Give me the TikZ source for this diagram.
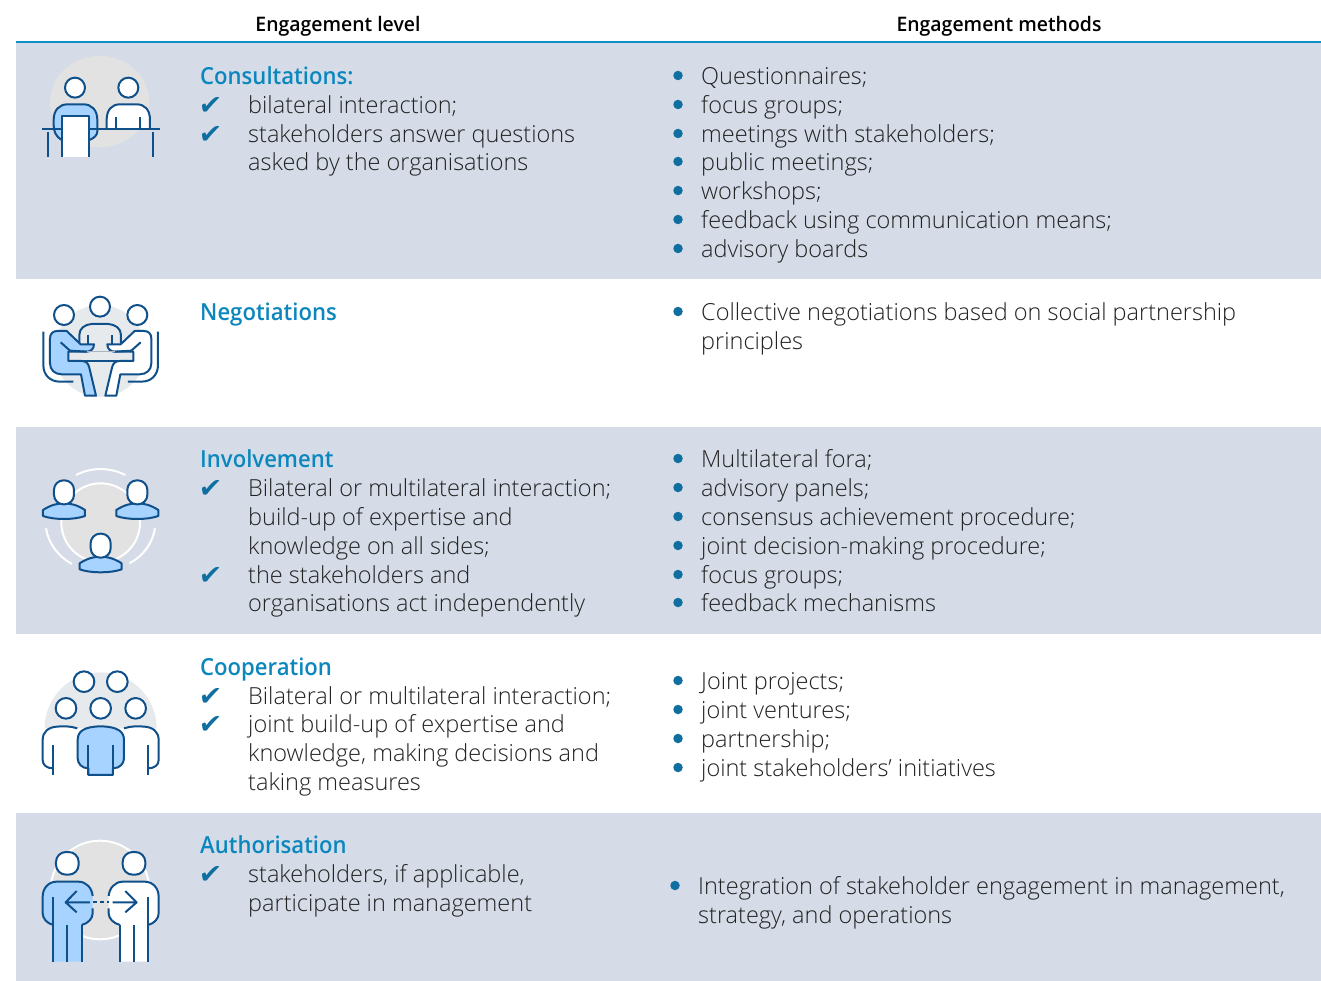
\documentclass[tikz,border=0pt]{standalone}
\usepackage{fontspec}
\setmainfont{Open Sans}[UprightFont={* Light},BoldFont={* Semibold}]
\newfontfamily\hdfont{Open Sans}[UprightFont={* Semibold},FakeStretch=0.94]
\newfontfamily\medfont{Open Sans}[UprightFont={* Semibold},FakeStretch=0.97]
\newfontfamily\symfont{DejaVu Sans}[FakeSlant=0.1]
\definecolor{band}{HTML}{D5DCE8}
\definecolor{rulec}{HTML}{0F8FC6}
\definecolor{headc}{HTML}{0B87BE}
\definecolor{ink}{HTML}{222222}
\definecolor{dot}{HTML}{0F6FA0}
\definecolor{iconl}{HTML}{0F4F8A}
\definecolor{iconb}{HTML}{A6D3FF}
\definecolor{disc}{HTML}{E2E2E2}
\definecolor{discw}{HTML}{E7EAEC}
\definecolor{tabletop}{HTML}{A9B4BE}
\tikzset{
 txt/.style={anchor=base west,inner sep=0pt,text=ink,font=\fontsize{23.5}{28}\selectfont},
 hd/.style={anchor=base west,inner sep=0pt,text=headc,font=\hdfont\fontsize{23.5}{28}\selectfont},
 colhd/.style={anchor=base,inner sep=0pt,text=black,font=\medfont\fontsize{20}{24}\selectfont},
 chk/.style={anchor=base west,inner sep=0pt,text=dot,font=\symfont\fontsize{27}{28}\selectfont},
 bul/.style={circle,fill=dot,minimum size=9.5pt,inner sep=0pt},
 ic/.style={draw=iconl,line width=2pt,line join=round},
 icw/.style={draw=white,line width=2pt},
 zoomed/.style={shift={#1},x=0.3333pt,y=-0.3333pt},
}
\begin{document}
\begin{tikzpicture}[x=1pt,y=-1pt]
\useasboundingbox (0,0) rectangle (1321,981);
\fill[white] (0,0) rectangle (1321,981);
\fill[band] (16,43) rectangle (1321,279);
\fill[band] (16,427) rectangle (1321,634);
\fill[band] (16,813) rectangle (1321,981);
\draw[rulec,line width=2pt] (16,42.5) -- (1321,42.5);
\node[colhd] (h1) at (338,32) {Engagement level};
\node[colhd] (h2) at (999,32) {Engagement methods};
% row 1 left
\node[hd] (a0) at (200,85) {Consultations:};
\node[chk] (ac1) at (198,115) {✔};
\node[txt] (a1) at (248,114) {bilateral interaction;};
\node[chk] (ac2) at (198,144) {✔};
\node[txt] (a2) at (248,143) {stakeholders answer questions};
\node[txt] (a3) at (248,171) {asked by the organisations};
% row 1 right
\foreach \n/\y/\t in {1/85/Questionnaires;,2/114/focus groups;,3/143/meetings with stakeholders;,4/171/public meetings;,5/200/workshops;,6/229/feedback using communication means;,7/258/advisory boards}{
 \node[bul] (ab\n) at (678,\y-9.5) {};
 \node[txt] (ar\n) at (701,\y) {\t};
}
% row 2
\node[hd] (b0) at (200,320) {Negotiations};
\node[bul] (bb1) at (678,311.5) {};
\node[txt] (br1) at (701,320) {Collective negotiations based on social partnership};
\node[txt] (br2) at (701,349) {principles};
% row 3
\node[hd] (c0) at (200,467) {Involvement};
\node[chk] (cc1) at (198,497) {✔};
\node[txt] (c1) at (248,496) {Bilateral or multilateral interaction;};
\node[txt] (c2) at (248,525) {build-up of expertise and};
\node[txt] (c3) at (248,554) {knowledge on all sides;};
\node[chk] (cc2) at (198,584) {✔};
\node[txt] (c4) at (248,583) {the stakeholders and};
\node[txt] (c5) at (248,611) {organisations act independently};
\foreach \n/\y/\t in {1/467/Multilateral fora;,2/496/advisory panels;,3/525/consensus achievement procedure;,4/554/joint decision-making procedure;,5/583/focus groups;,6/611/feedback mechanisms}{
 \node[bul] (cb\n) at (678,\y-8.5) {};
 \node[txt] (cr\n) at (701,\y) {\t};
}
% row 4
\node[hd] (d0) at (200,675) {Cooperation};
\node[chk] (dc1) at (198,705) {✔};
\node[txt] (d1) at (248,704) {Bilateral or multilateral interaction;};
\node[chk] (dc2) at (198,733) {✔};
\node[txt] (d2) at (248,732) {joint build-up of expertise and};
\node[txt] (d3) at (248,761) {knowledge, making decisions and};
\node[txt] (d4) at (248,790) {taking measures};
\foreach \n/\y/\t in {1/689/Joint projects;,2/718/joint ventures;,3/747/partnership;,4/776/joint stakeholders’ initiatives}{
 \node[bul] (db\n) at (678,\y-8.5) {};
 \node[txt] (dr\n) at (701,\y) {\t};
}
% row 5
\node[hd] (e0) at (200,853) {Authorisation};
\node[chk] (ec1) at (198,883) {✔};
\node[txt] (e1) at (248,882) {stakeholders, if applicable,};
\node[txt] (e2) at (248,911) {participate in management};
\node[bul] (eb1) at (675,885.5) {};
\node[txt] (er1) at (698,894) {Integration of stakeholder engagement in management,};
\node[txt] (er2) at (698,923) {strategy, and operations};
% ICON 1
\begin{scope}[zoomed={(20,40)}]
 \fill[disc] (239,185) ellipse[x radius=149,y radius=137];
 \draw[ic,fill=white] (165,143) circle (30);
 \draw[ic,fill=white] (325,143) circle (30);
 \draw[ic,fill=white] (260,266) -- (260,240) .. controls (260,210) and (275,193) .. (300,193) -- (350,193) .. controls (375,193) and (390,210) .. (390,240) -- (390,266);
 \draw[ic] (289,230) -- (289,266) (359,230) -- (359,266);
 \draw[ic,fill=iconb] (125,300) .. controls (108,290) and (101,275) .. (101,255) -- (101,240) .. controls (101,210) and (118,193) .. (143,193) -- (190,193) .. controls (215,193) and (232,210) .. (232,240) -- (232,275) .. controls (232,285) and (222,295) .. (208,300) -- cycle;
 \draw[ic] (66,266) -- (419,266);
 \draw[ic] (84,275) -- (84,350) (399,275) -- (399,350);
 \draw[ic,fill=white] (125,350) -- (125,227) -- (208,227) -- (208,350);
\end{scope}
% ICON 2
\begin{scope}[zoomed={(20,285)}]
 \fill[discw] (240,198) circle (138);
 \draw[ic,fill=white] (240,65) circle (30);
 \draw[ic,fill=white] (132,90) circle (30);
 \draw[ic,fill=white] (352,90) circle (30);
 \draw[ic] (178,175) -- (178,150) .. controls (178,130) and (195,118) .. (215,117) -- (265,117) .. controls (285,118) and (303,130) .. (303,150) -- (303,175);
 \draw[ic] (205,150) -- (205,178) (275,150) -- (275,178);
 \draw[ic,fill=iconb] (90,160) .. controls (90,145) and (100,138) .. (112,138) -- (140,138) -- (182,178) -- (222,178) .. controls (222,192) and (212,200) .. (200,200) -- (145,200) -- (145,228) -- (185,228) .. controls (198,228) and (205,235) .. (208,248) -- (228,332) -- (195,332) -- (183,268) -- (125,268) .. controls (105,268) and (90,255) .. (90,235) -- cycle;
 \draw[ic,fill=white] (394,160) .. controls (394,145) and (384,138) .. (372,138) -- (344,138) -- (302,178) -- (262,178) .. controls (262,192) and (272,200) .. (284,200) -- (340,200) -- (340,228) -- (299,228) .. controls (286,228) and (279,235) .. (276,248) -- (256,332) -- (289,332) -- (301,268) -- (359,268) .. controls (379,268) and (394,255) .. (394,235) -- cycle;
 \draw[ic] (122,172) -- (150,197) -- (200,200);
 \draw[ic] (362,172) -- (334,197) -- (284,200);
 \draw[draw=tabletop,line width=1.2pt] (200,200) -- (284,200);
 \draw[ic] (145,228) -- (340,228);
 \draw[ic] (70,140) -- (70,240) .. controls (70,270) and (90,290) .. (120,290) -- (160,290);
 \draw[ic] (414,140) -- (414,240) .. controls (414,270) and (394,290) .. (364,290) -- (324,290);
\end{scope}
% ICON 3
\newcommand{\PersonA}[2]{%
 \draw[ic,fill=iconb,shift={(#1,#2)}] (-63,53) .. controls (-40,38) and (-20,33) .. (0,33) .. controls (20,33) and (40,38) .. (63,53) -- (63,71) .. controls (30,83) and (-30,83) .. (-63,71) -- cycle;
 \draw[ic,fill=white,rounded corners=9.5pt,shift={(#1,#2)}] (-30,-36) rectangle (30,36);
}
\begin{scope}[zoomed={(20,460)}]
 \draw[disc,fill=disc] (242,188) circle (118);
 \draw[icw] (242,188) circle (118);
 \draw[icw] (168,45) arc[start angle=-117,end angle=-63,radius=163];
 \draw[icw] (78,205) .. controls (85,250) and (115,290) .. (156,312);
 \draw[icw] (405,205) .. controls (398,250) and (368,290) .. (328,310);
 \PersonA{132}{97}
 \PersonA{352}{97}
 \PersonA{242}{257}
\end{scope}
% ICON 4
\begin{scope}[zoomed={(20,660)}]
 \fill[discw] (74,205) arc[start angle=180,end angle=360,radius=168] -- cycle;
 \foreach \p/\q in {192/65,292/65,138/145,242/145,347/145}{\draw[ic,fill=white] (\p,\q) circle (31);}
 \draw[ic,fill=white] (172,205) .. controls (150,198) and (130,198) .. (110,200) .. controls (85,202) and (68,215) .. (68,240) -- (68,300) .. controls (68,315) and (80,325) .. (100,325);
 \draw[ic] (100,255) -- (100,345);
 \draw[ic,fill=white] (312,205) .. controls (334,198) and (354,198) .. (374,200) .. controls (399,202) and (416,215) .. (416,240) -- (416,300) .. controls (416,315) and (404,325) .. (384,325);
 \draw[ic] (384,255) -- (384,345);
 \draw[ic,fill=iconb] (205,345) -- (205,325) .. controls (185,325) and (173,310) .. (173,295) -- (173,240) .. controls (173,215) and (190,200) .. (242,199) .. controls (294,200) and (312,215) .. (312,240) -- (312,295) .. controls (312,310) and (300,325) .. (279,325) -- (279,345) -- cycle;
 \draw[ic] (205,255) -- (205,345) (279,255) -- (279,345);
\end{scope}
% ICON 5
\begin{scope}[zoomed={(20,835)}]
 \draw[icw,fill=disc] (240,165) circle (148);
 \draw[ic,fill=white,rounded corners=10pt] (108,51) rectangle (176,119);
 \draw[ic,fill=white,rounded corners=10pt] (308,51) rectangle (376,119);
 \fill[iconb] (100,380) -- (100,270) .. controls (80,265) and (68,250) .. (68,235) -- (68,185) .. controls (68,160) and (85,140) .. (110,140) -- (175,140) .. controls (200,140) and (218,160) .. (218,185) -- (218,235) .. controls (218,250) and (205,265) .. (185,270) -- (185,380) -- cycle;
 \draw[ic] (100,380) -- (100,185) (142,270) -- (142,380) (185,270) -- (185,380);
 \draw[ic] (218,183) .. controls (216,160) and (200,140) .. (175,140) -- (110,140) .. controls (85,140) and (68,160) .. (68,185) -- (68,235) .. controls (68,250) and (80,265) .. (100,270);
 \draw[ic] (218,220) -- (218,235) .. controls (218,250) and (205,265) .. (185,270);
 \fill[white] (300,380) -- (300,270) .. controls (280,265) and (266,250) .. (266,235) -- (266,185) .. controls (266,160) and (284,140) .. (309,140) -- (374,140) .. controls (399,140) and (416,160) .. (416,185) -- (416,235) .. controls (416,250) and (404,265) .. (384,270) -- (384,380) -- cycle;
 \draw[ic] (384,380) -- (384,185) (342,270) -- (342,380) (300,270) -- (300,380);
 \draw[ic] (266,183) .. controls (268,160) and (284,140) .. (309,140) -- (374,140) .. controls (399,140) and (416,160) .. (416,185) -- (416,235) .. controls (416,250) and (404,265) .. (384,270);
 \draw[ic] (266,220) -- (266,235) .. controls (266,250) and (280,265) .. (300,270);
 \draw[ic] (210,202) -- (137,202) (170,168) -- (137,202) -- (170,232);
 \draw[ic] (278,202) -- (350,202) (316,168) -- (350,202) -- (316,232);
 \draw[ic,dash pattern=on 4pt off 3pt] (220,202) -- (266,202);
\end{scope}
\end{tikzpicture}
\end{document}
